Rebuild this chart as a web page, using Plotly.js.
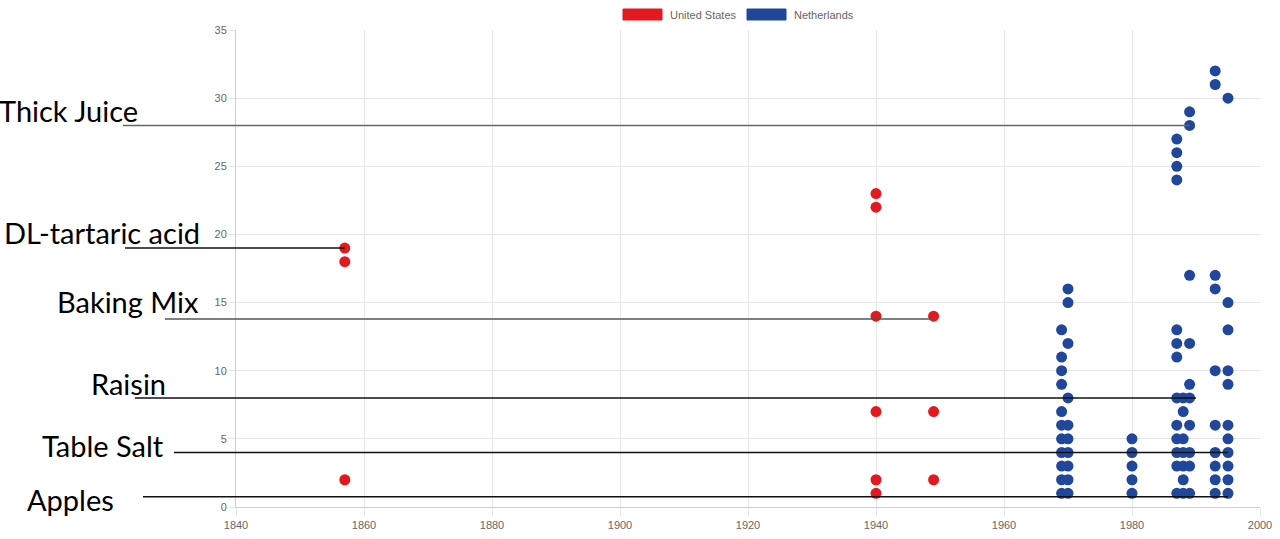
<!DOCTYPE html>
<html>
<head>
<meta charset="utf-8">
<script src="https://cdn.plot.ly/plotly-3.0.1.min.js"></script>
<style>
  html, body { margin: 0; padding: 0; background: #fff; }
  #plot01 { width: 1280px; height: 539px; }
</style>
</head>
<body>
<div id="plot01"></div>
<script>
// --- data ---
const seriesNames = ['United States', 'Netherlands'];
const seriesColors = ['#e3191f', '#20479b'];

const usYears = [1857, 1940, 1949];
const usValues = [
    [19, 18, 2],
    [23, 22, 14, 7, 2, 1],
    [14, 7, 2],
];

const nlYears = [1969, 1970, 1980, 1987, 1988, 1989, 1993, 1995];
const nlValues = [
    [1, 2, 3, 4, 5, 6, 7, 9, 10, 11, 13],
    [1, 2, 3, 4, 5, 6, 8, 12, 15, 16],
    [1, 2, 3, 4, 5],
    [1, 3, 4, 5, 6, 8, 11, 12, 13, 24, 25, 26, 27],
    [1, 2, 3, 4, 5, 7, 8],
    [1, 3, 4, 6, 8, 9, 12, 17, 28, 29],
    [1, 2, 3, 4, 6, 10, 16, 17, 31, 32],
    [1, 2, 3, 4, 5, 6, 9, 10, 13, 15, 30],
];

// labelled products and the point each leader line runs to
const productLabels = ['Thick Juice', 'DL-tartaric acid', 'Baking Mix', 'Raisin', 'Table Salt', 'Apples'];
const productYears = [1989, 1857, 1949, 1990, 1995, 1995];
const productValues = [28, 19, 13.8, 8, 4, 0.75];

const xTicks = [1840, 1860, 1880, 1900, 1920, 1940, 1960, 1980, 2000];
const yTicks = [0, 5, 10, 15, 20, 25, 30, 35];

// --- layout geometry (pixels) ---
const W = 1280, H = 539;
const M = { l: 236, r: 20, t: 30, b: 32 };
const plotW = W - M.l - M.r, plotH = H - M.t - M.b;
const xRange = [1840, 2000], yRange = [0, 35];

const labelLeftPx = [-3, 2, 55, 89, 40, 25];
const labelMidPx = [110, 232, 301, 383, 445, 499];
const lineStartPx = [123, 125, 165, 135, 174, 143];
const lineColors = ['#666', '#111', '#555', '#111', '#111', '#111'];

function pxToPaperX(px) { return (px - M.l) / plotW; }
function pxToPaperY(py) { return (H - M.b - py) / plotH; }
function yearToPaper(yr) { return (yr - xRange[0]) / (xRange[1] - xRange[0]); }

function flatten(years, values) {
    const x = [], y = [];
    years.forEach((yr, i) => values[i].forEach(v => { x.push(yr); y.push(v); }));
    return { x, y };
}

window.addEventListener('load', () => {
    initPlot();
});

function initPlot() {
    const us = flatten(usYears, usValues);
    const nl = flatten(nlYears, nlValues);

    const data = [us, nl].map((pts, i) => ({
        type: 'scatter',
        mode: 'markers',
        name: seriesNames[i],
        x: pts.x,
        y: pts.y,
        marker: { color: seriesColors[i], size: 11, symbol: 'circle' },
        showlegend: false,
        cliponaxis: false,
    }));

    const shapes = [];
    const annotations = [];

    productLabels.forEach((label, i) => {
        shapes.push({
            type: 'line',
            xref: 'paper', yref: 'y',
            x0: pxToPaperX(lineStartPx[i]),
            x1: yearToPaper(productYears[i]),
            y0: productValues[i], y1: productValues[i],
            line: { color: lineColors[i], width: 1.5 },
        });
        annotations.push({
            xref: 'paper', yref: 'paper',
            x: pxToPaperX(labelLeftPx[i]),
            y: pxToPaperY(labelMidPx[i]),
            xanchor: 'left', yanchor: 'middle',
            text: label,
            showarrow: false,
            font: { family: 'Lato', size: 29, color: '#000' },
        });
    });

    // legend drawn as Chart.js-like boxes
    const legendBoxPx = [[623, 662], [747, 786]];
    const legendTextPx = [668, 792];
    seriesNames.forEach((name, i) => {
        shapes.push({
            type: 'rect',
            xref: 'paper', yref: 'paper',
            x0: pxToPaperX(legendBoxPx[i][0]), x1: pxToPaperX(legendBoxPx[i][1]),
            y0: pxToPaperY(9), y1: pxToPaperY(20),
            fillcolor: seriesColors[i],
            line: { color: seriesColors[i], width: 1 },
        });
        annotations.push({
            xref: 'paper', yref: 'paper',
            x: pxToPaperX(legendTextPx[i]),
            y: pxToPaperY(14.5),
            xanchor: 'left', yanchor: 'middle',
            text: name,
            showarrow: false,
            font: { family: 'Liberation Sans', size: 11, color: '#666' },
        });
    });

    const layout = {
        width: W,
        height: H,
        margin: M,
        font: { family: 'Liberation Sans', size: 11, color: '#666' },
        paper_bgcolor: 'white',
        plot_bgcolor: 'white',
        showlegend: false,
        xaxis: {
            range: xRange,
            tickvals: xTicks,
            ticktext: xTicks.map(String),
            showgrid: true,
            gridcolor: '#e6e6e6',
            zeroline: false,
            showline: true,
            linecolor: '#d0d0d0',
            ticks: 'outside',
            ticklen: 8,
            tickcolor: '#e6e6e6',
            tickfont: { family: 'Liberation Sans', size: 11, color: '#666' },
        },
        yaxis: {
            range: yRange,
            tickvals: yTicks,
            ticktext: yTicks.map(String),
            showgrid: true,
            gridcolor: '#e6e6e6',
            zeroline: false,
            showline: true,
            linecolor: '#d0d0d0',
            ticks: 'outside',
            ticklen: 6,
            tickcolor: '#e6e6e6',
            tickfont: { family: 'Liberation Sans', size: 11, color: '#666' },
        },
        shapes: shapes,
        annotations: annotations,
        hovermode: 'closest',
    };

    const config = {
        displayModeBar: false,
        responsive: false,
        staticPlot: true,
    };

    Plotly.newPlot('plot01', data, layout, config);
}
</script>
</body>
</html>
